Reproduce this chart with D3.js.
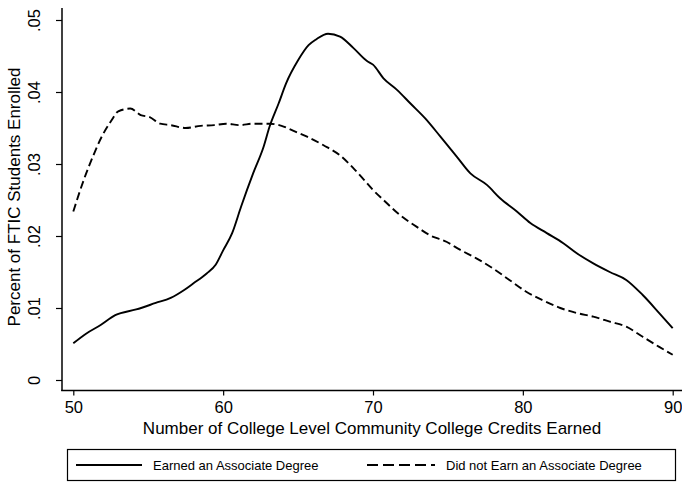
<!DOCTYPE html>
<html>
<head>
<meta charset="utf-8">
<script src="https://cdn.jsdelivr.net/npm/d3@7"></script>
<style>
  body { margin: 0; background: #fff; }
  svg { display: block; font-family: "Liberation Sans", Arial, Helvetica, sans-serif; }
</style>
</head>
<body>
<svg id="chart" width="682" height="484"></svg>
<script>
// credits earned / share of FTIC students
const earnedCredits = [50, 50.9, 51.8, 52.8, 54.2, 55.5, 56.5, 57.4, 58.0, 58.9, 59.5, 60.0, 60.6, 61.2, 62.0, 62.7, 63.1, 63.7, 64.2, 65.0, 65.7, 66.2, 67.0, 67.8, 68.7, 69.6, 70.0, 70.7, 71.6, 72.5, 73.5, 74.5, 75.6, 76.5, 77.6, 78.5, 79.6, 80.5, 81.6, 82.7, 83.6, 84.7, 85.8, 86.9, 88.0, 89.1, 90]
const earnedShare = [.0051, .0065, .0076, .0090, .0098, .0107, .0114, .0125, .0134, .0148, .0160, .0180, .0204, .0241, .0287, .0324, .0352, .0384, .0412, .0444, .0465, .0473, .0481, .0477, .0461, .0443, .0438, .0419, .0403, .0384, .0363, .0338, .0310, .0287, .0271, .0252, .0234, .0218, .0204, .0190, .0176, .0162, .0150, .0139, .0118, .0093, .0072]

const notEarnedCredits = [50, 50.7, 51.3, 51.9, 52.5, 53.0, 53.8, 54.5, 55.1, 55.8, 56.5, 57.5, 58.5, 59.4, 60.2, 61.1, 62.0, 63.1, 63.9, 64.7, 65.6, 66.7, 67.8, 68.7, 69.4, 70.0, 70.7, 71.8, 72.9, 73.8, 74.9, 75.8, 76.9, 78.0, 79.1, 80.2, 81.3, 82.5, 83.6, 84.7, 85.8, 86.9, 88.0, 89.1, 90]
const notEarnedShare = [.0234, .0278, .0310, .0338, .0359, .0373, .0377, .0368, .0365, .0356, .0354, .0350, .0353, .0354, .0356, .0354, .0356, .0356, .0353, .0346, .0338, .0326, .0312, .0294, .0278, .0264, .0250, .0229, .0213, .0201, .0192, .0181, .0169, .0155, .0139, .0123, .0111, .0100, .0093, .0088, .0081, .0074, .0060, .0046, .0035]

const xTicks = [50, 60, 70, 80, 90]
const yTicks = [0, .01, .02, .03, .04, .05]
const seriesNames = ['Earned an Associate Degree', 'Did not Earn an Associate Degree']

const svg = d3.select('#chart')

const x = d3.scaleLinear().domain([50, 90]).range([73.3, 672.7])
const y = d3.scaleLinear().domain([0, .05]).range([380, 20])

// axes (Stata style: outward ticks, axis lines spanning the plot region)
svg.append('line')
    .attr('x1', 62).attr('x2', 62).attr('y1', 8).attr('y2', 391)
    .attr('stroke', '#000').attr('stroke-width', 1.5)
svg.append('line')
    .attr('x1', 61.2).attr('x2', 682).attr('y1', 390.5).attr('y2', 390.5)
    .attr('stroke', '#000').attr('stroke-width', 1.5)

const xAxis = svg.append('g')
    .attr('transform', 'translate(0,390.5)')
    .call(d3.axisBottom(x).tickValues(xTicks).tickSize(5).tickPadding(6).tickFormat(d3.format('d')))
xAxis.select('.domain').remove()
xAxis.selectAll('text').attr('font-size', 16.5).attr('fill', '#000').attr('font-family', null)
xAxis.selectAll('line').attr('stroke-width', 1.2)

const yAxis = svg.append('g')
    .attr('transform', 'translate(62,0)')
    .call(d3.axisLeft(y).tickValues(yTicks).tickSize(6)
        .tickFormat(d => d === 0 ? '0' : d3.format('.2f')(d).replace(/^0/, '')))
yAxis.select('.domain').remove()
yAxis.selectAll('line').attr('stroke-width', 1.2)
yAxis.selectAll('text')
    .attr('font-size', 16.5).attr('fill', '#000').attr('font-family', null)
    .attr('text-anchor', 'middle')
    .attr('x', null).attr('dy', null)
    .attr('transform', 'translate(-22,0) rotate(-90)')

// axis titles
svg.append('text')
    .attr('x', 372).attr('y', 434)
    .attr('text-anchor', 'middle')
    .attr('font-size', 17)
    .text('Number of College Level Community College Credits Earned')
svg.append('text')
    .attr('transform', 'translate(20,197) rotate(-90)')
    .attr('text-anchor', 'middle')
    .attr('font-size', 17)
    .text('Percent of FTIC Students Enrolled')

// lines
const line = d3.line().x(d => x(d[0])).y(d => y(d[1])).curve(d3.curveMonotoneX)

svg.append('path')
    .datum(d3.zip(earnedCredits, earnedShare))
    .attr('d', line)
    .attr('fill', 'none').attr('stroke', '#000').attr('stroke-width', 1.9)

svg.append('path')
    .datum(d3.zip(notEarnedCredits, notEarnedShare))
    .attr('d', line)
    .attr('fill', 'none').attr('stroke', '#000').attr('stroke-width', 1.9)
    .attr('stroke-dasharray', '8,4')

// legend
const legend = svg.append('g')
legend.append('rect')
    .attr('x', 67.5).attr('y', 449.5).attr('width', 608).attr('height', 31)
    .attr('fill', '#fff').attr('stroke', '#000').attr('stroke-width', 1.2)

legend.append('line')
    .attr('x1', 76).attr('x2', 142).attr('y1', 465).attr('y2', 465)
    .attr('stroke', '#000').attr('stroke-width', 1.8)
legend.append('text')
    .attr('x', 153).attr('y', 470)
    .attr('font-size', 13)
    .text(seriesNames[0])

legend.append('line')
    .attr('x1', 367).attr('x2', 435).attr('y1', 465).attr('y2', 465)
    .attr('stroke', '#000').attr('stroke-width', 1.8)
    .attr('stroke-dasharray', '11,5')
legend.append('text')
    .attr('x', 446).attr('y', 470)
    .attr('font-size', 13)
    .text(seriesNames[1])
</script>
</body>
</html>
